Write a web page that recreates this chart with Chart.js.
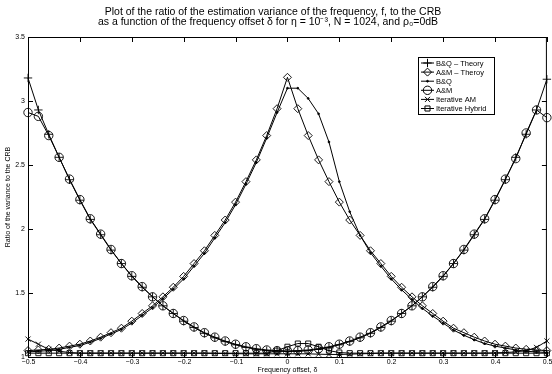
<!DOCTYPE html>
<html>
<head>
<meta charset="utf-8">
<script src="https://cdn.jsdelivr.net/npm/chart.js@4/dist/chart.umd.min.js"></script>
<style>
  html, body { margin: 0; padding: 0; background: #fff; }
  #wrap { width: 552px; height: 374px; }
</style>
</head>
<body>
<div id="wrap"><canvas id="grafik" width="552" height="374"></canvas></div>
<script>
// ===============================
// Data
// ===============================

const delta = [
  -0.5, -0.48, -0.46, -0.44, -0.42, -0.4, -0.38, -0.36, -0.34, -0.32,
  -0.3, -0.28, -0.26, -0.24, -0.22, -0.2, -0.18, -0.16, -0.14, -0.12,
  -0.1, -0.08, -0.06, -0.04, -0.02, 0,
  0.02, 0.04, 0.06, 0.08, 0.1, 0.12, 0.14, 0.16, 0.18, 0.2,
  0.22, 0.24, 0.26, 0.28, 0.3, 0.32, 0.34, 0.36, 0.38, 0.4,
  0.42, 0.44, 0.46, 0.48, 0.5
];

const bqTheory = [
  3.18, 2.93, 2.74, 2.56, 2.385, 2.225, 2.075, 1.955, 1.835, 1.73,
  1.63, 1.545, 1.47, 1.40, 1.34, 1.28, 1.23, 1.185, 1.15, 1.12,
  1.095, 1.075, 1.06, 1.05, 1.045, 1.043,
  1.045, 1.05, 1.06, 1.075, 1.095, 1.12, 1.15, 1.185, 1.23, 1.28,
  1.34, 1.40, 1.47, 1.545, 1.63, 1.73, 1.835, 1.955, 2.075, 2.225,
  2.385, 2.56, 2.74, 2.93, 3.17
];

const amTheory = [
  1.05, 1.055, 1.06, 1.07, 1.085, 1.10, 1.125, 1.155, 1.19, 1.225,
  1.28, 1.34, 1.40, 1.47, 1.545, 1.63, 1.73, 1.83, 1.95, 2.07,
  2.21, 2.37, 2.54, 2.73, 2.94, 3.185,
  2.94, 2.73, 2.54, 2.37, 2.21, 2.07, 1.95, 1.83, 1.73, 1.63,
  1.545, 1.47, 1.40, 1.34, 1.28, 1.225, 1.19, 1.155, 1.125, 1.10,
  1.085, 1.07, 1.06, 1.055, 1.05
];

const bq = [
  1.04, 1.045, 1.05, 1.06, 1.075, 1.09, 1.115, 1.145, 1.18, 1.215,
  1.265, 1.325, 1.385, 1.455, 1.53, 1.61, 1.71, 1.81, 1.93, 2.05,
  2.19, 2.35, 2.52, 2.71, 2.91, 3.10,
  3.10, 3.02, 2.90, 2.68, 2.37, 2.135, 1.95, 1.815, 1.71, 1.61,
  1.525, 1.45, 1.38, 1.32, 1.265, 1.21, 1.17, 1.135, 1.105, 1.085,
  1.07, 1.055, 1.045, 1.04, 1.035
];

const am = [
  2.91, 2.88, 2.73, 2.56, 2.39, 2.23, 2.08, 1.96, 1.84, 1.73,
  1.635, 1.55, 1.47, 1.40, 1.34, 1.285, 1.235, 1.19, 1.155, 1.125,
  1.10, 1.08, 1.065, 1.055, 1.05, 1.048,
  1.05, 1.055, 1.065, 1.08, 1.10, 1.125, 1.155, 1.19, 1.235, 1.285,
  1.34, 1.40, 1.47, 1.55, 1.635, 1.73, 1.84, 1.96, 2.08, 2.23,
  2.39, 2.55, 2.75, 2.93, 2.87
];

const iterAM = [
  1.14, 1.10, 1.06, 1.045, 1.035, 1.03, 1.03, 1.03, 1.03, 1.03,
  1.03, 1.03, 1.03, 1.03, 1.03, 1.03, 1.03, 1.03, 1.028, 1.027,
  1.026, 1.025, 1.025, 1.025, 1.025, 1.025,
  1.025, 1.025, 1.022, 1.02, 1.02, 1.022, 1.025, 1.027, 1.03, 1.03,
  1.03, 1.03, 1.03, 1.03, 1.03, 1.03, 1.03, 1.03, 1.03, 1.032,
  1.035, 1.04, 1.05, 1.075, 1.125
];

const iterHybrid = [
  1.03, 1.03, 1.03, 1.03, 1.03, 1.03, 1.03, 1.03, 1.03, 1.03,
  1.03, 1.03, 1.03, 1.03, 1.03, 1.03, 1.03, 1.03, 1.03, 1.03,
  1.03, 1.03, 1.03, 1.03, 1.05, 1.08,
  1.105, 1.105, 1.08, 1.05, 1.035, 1.03, 1.03, 1.03, 1.03, 1.03,
  1.03, 1.03, 1.03, 1.03, 1.03, 1.03, 1.03, 1.03, 1.03, 1.03,
  1.03, 1.03, 1.03, 1.03, 1.03
];

const xTicks = [-0.5, -0.4, -0.3, -0.2, -0.1, 0, 0.1, 0.2, 0.3, 0.4, 0.5];
const yTicks = [1, 1.5, 2, 2.5, 3, 3.5];

const FONT = "'Liberation Sans', Arial, Helvetica, sans-serif";

// ===============================
// Dataset
// ===============================

function seri(label, values, style, radius, filled) {
  return {
    label: label,
    data: values.map((v, i) => ({ x: delta[i], y: v })),
    borderColor: "#000",
    borderWidth: 1,
    pointStyle: style,
    pointRadius: radius,
    pointBorderWidth: 0.9,
    pointBorderColor: "#000",
    pointBackgroundColor: filled ? "#000" : "rgba(0,0,0,0)",
    tension: 0,
    clip: false
  };
}

const datasets = [
  seri("B&Q \u2013 Theory", bqTheory, "cross", 4.2, false),
  seri("A&M \u2013 Theroy", amTheory, "rectRot", 4, false),
  seri("B&Q", bq, "circle", 0.9, true),
  seri("A&M", am, "circle", 4.2, false),
  seri("Iterative AM", iterAM, "crossRot", 3.6, false),
  seri("Iterative Hybrid", iterHybrid, "rect", 3.6, false)
];

// ===============================
// Bingkai, tick, judul, legenda
// ===============================

const bingkai = {
  id: "bingkai",
  afterDraw(chart) {
    const { ctx, chartArea: a, scales: { x, y } } = chart;
    ctx.save();
    ctx.strokeStyle = "#000";
    ctx.fillStyle = "#000";
    ctx.lineWidth = 1;
    ctx.strokeRect(a.left + 0.5, a.top + 0.5, a.right - a.left - 1, a.bottom - a.top);

    // tick sumbu x
    ctx.font = "7px " + FONT;
    ctx.textAlign = "center";
    ctx.textBaseline = "top";
    xTicks.forEach(v => {
      const px = Math.round(x.getPixelForValue(v)) + 0.5;
      ctx.beginPath();
      ctx.moveTo(px, a.bottom); ctx.lineTo(px, a.bottom - 5);
      ctx.moveTo(px, a.top); ctx.lineTo(px, a.top + 5);
      ctx.stroke();
      const txt = v < 0 ? "\u2212" + Math.abs(v) : String(v);
      ctx.fillText(txt, px, a.bottom + 2);
    });

    // tick sumbu y
    ctx.textAlign = "right";
    ctx.textBaseline = "middle";
    yTicks.forEach(v => {
      const py = Math.round(y.getPixelForValue(v)) + 0.5;
      ctx.beginPath();
      ctx.moveTo(a.left, py); ctx.lineTo(a.left + 5, py);
      ctx.moveTo(a.right, py); ctx.lineTo(a.right - 5, py);
      ctx.stroke();
      ctx.fillText(String(v), a.left - 3, py);
    });

    // label sumbu
    ctx.textAlign = "center";
    ctx.textBaseline = "middle";
    ctx.fillText("Frequency offset, \u03b4", (a.left + a.right) / 2, 370);
    ctx.save();
    ctx.translate(8, (a.top + a.bottom) / 2);
    ctx.rotate(-Math.PI / 2);
    ctx.fillText("Ratio of the variance to the CRB", 0, 0);
    ctx.restore();

    // judul
    ctx.font = "10.5px " + FONT;
    ctx.fillText("Plot of the ratio of the estimation variance of the frequency, f, to the CRB", 273, 12);
    ctx.fillText("as a function of the frequency offset \u03b4 for \u03b7 = 10\u207b\u00b3, N = 1024, and \u03c1\u2080=0dB", 268, 22);

    // legenda
    const lx = 418.5, ly = 57.5, lw = 76, lh = 57;
    ctx.fillStyle = "#fff";
    ctx.fillRect(lx, ly, lw, lh);
    ctx.strokeRect(lx, ly, lw, lh);
    ctx.font = "7.5px " + FONT;
    ctx.textAlign = "left";
    chart.data.datasets.forEach((ds, i) => {
      const ry = 63 + i * 9.1;
      ctx.strokeStyle = "#000";
      ctx.lineWidth = 1;
      ctx.beginPath();
      ctx.moveTo(421, ry); ctx.lineTo(434, ry);
      ctx.stroke();
      ctx.fillStyle = ds.pointBackgroundColor;
      Chart.helpers.drawPoint(ctx, {
        pointStyle: ds.pointStyle,
        radius: ds.pointRadius,
        borderWidth: 0.9,
        rotation: 0
      }, 427.5, ry);
      ctx.fillStyle = "#000";
      ctx.fillText(ds.label, 436, ry + 0.5);
    });
    ctx.restore();
  }
};

// ===============================
// Grafik
// ===============================

new Chart(document.getElementById("grafik"), {
  type: "line",
  data: { datasets: datasets },
  options: {
    responsive: false,
    animation: false,
    devicePixelRatio: 1,
    layout: { padding: { left: 28, right: 3, top: 37, bottom: 17 } },
    plugins: {
      legend: { display: false },
      title: { display: false },
      tooltip: { enabled: false }
    },
    scales: {
      x: { type: "linear", min: -0.5, max: 0.5, display: false },
      y: { type: "linear", min: 1, max: 3.5, display: false }
    }
  },
  plugins: [bingkai]
});
</script>
</body>
</html>
